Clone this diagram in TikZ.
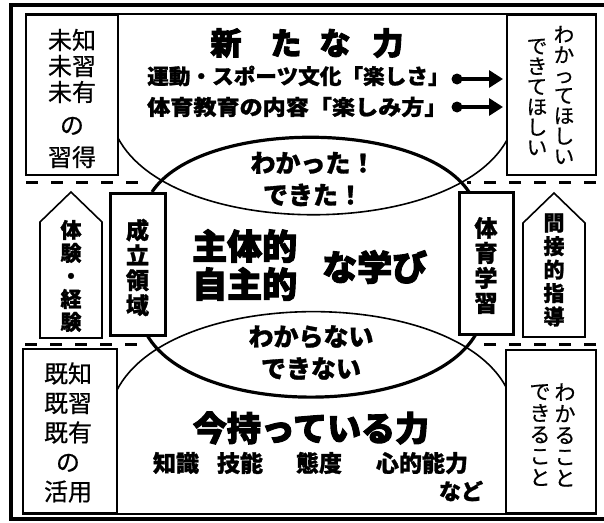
\documentclass[tikz,border=0pt]{standalone}
\usepackage{fontspec}
\setmainfont{Noto Sans CJK JP}
\newfontfamily\jpheavy[BoldFeatures={FakeBold=3}]{Noto Sans CJK JP}
\newfontfamily\jpmid[BoldFeatures={FakeBold=1.2}]{Noto Sans CJK JP}
\newfontfamily\jpsemi[FakeBold=0.6]{Noto Sans CJK JP}
\usetikzlibrary{arrows.meta}
\newcommand{\fsz}[2]{\fontsize{#1}{#2}\selectfont}
\begin{document}
\begin{tikzpicture}[x=1pt,y=-1pt,
  outerframe/.style={line width=3.5pt},
  box/.style={draw, line width=1.8pt, inner sep=0pt},
  thickbox/.style={draw, line width=3pt, inner sep=0pt},
  pent/.style={line width=1.6pt, line join=miter},
  dashln/.style={line width=3pt, dash pattern=on 12pt off 13pt},
  thincurve/.style={line width=1.6pt},
  thickcurve/.style={line width=3.2pt},
  txt/.style={inner sep=0pt, align=center},
  regtxt/.style={txt, font=\jpsemi\fsz{24}{26}},
  vreg/.style={txt, font=\jpsemi\fsz{20.5}{20.3}},
  vbold/.style={txt, font=\jpmid\bfseries\fsz{21}{23.5}},
  vbig/.style={txt, font=\jpmid\bfseries\fsz{23}{25}},
  head/.style={txt, font=\jpheavy\bfseries\fsz{31}{31}},
  sub/.style={inner sep=0pt, anchor=west, font=\jpmid\bfseries\fsz{21}{21}},
  lens/.style={txt, font=\jpmid\bfseries\fsz{25}{32}},
  huge/.style={inner sep=0pt, anchor=west, align=left, font=\jpheavy\bfseries\fsz{35}{38}},
  items/.style={txt, font=\jpmid\bfseries\fsz{23}{23}},
  bullet/.style={circle, fill, inner sep=0pt, minimum size=11pt},
  arr/.style={line width=3.2pt, -{Triangle[length=14pt,width=17pt]}}
]
\useasboundingbox (0,0) rectangle (604,522);
\fill[white] (0,0) rectangle (604,522);
\draw[outerframe] (11,5) rectangle (614,519);

% side boxes
\node[box, minimum width=92pt, minimum height=160pt] (lt) at (72,95) {};
\node[box, minimum width=89pt, minimum height=160pt] (rt) at (551.5,95) {};
\node[box, minimum width=94pt, minimum height=164pt] (lb) at (70,431) {};
\node[box, minimum width=90pt, minimum height=163pt] (rb) at (551,431.5) {};
\draw[line width=1.8pt] (lt.north west) -- (rt.north east);
\draw[line width=1.8pt] (lb.south west) -- (rb.south east);

% dashed separators
\draw[dashln] (26,182) -- (145,182);
\draw[dashln] (596,182) -- (467,182);
\draw[dashln] (25,344) -- (140,344);
\draw[dashln] (596,344) -- (476,344);

% thick boxes
\node[thickbox, minimum width=55pt, minimum height=142pt] (seiritsu) at (137.5,264) {};
\node[thickbox, minimum width=54pt, minimum height=142pt] (taiiku) at (486,263) {};

% pentagons
\draw[pent] (40,338) -- (40,222) -- (71,192) -- (102,222) -- (102,338) -- cycle;
\draw[pent] (523,337) -- (523,223) -- (554,193) -- (585,223) -- (585,337) -- cycle;

% curves
\draw[thickcurve] (152,192) .. controls (200,119) and (421,119) .. (469,192);
\draw[thincurve] (118,138) .. controls (172,240) and (452,240) .. (507,140);
\draw[thincurve] (117,390) .. controls (171,286) and (452,286) .. (506,387);
\draw[thickcurve] (147,335) .. controls (195,418) and (428,418) .. (476,334);

% side box texts
\node[regtxt] (ltt) at (72,98.5) {未知\\未習\\未有\\[7pt]の\\[6pt]習得};
\node[regtxt, font=\jpsemi\fsz{24}{29.5}] (lbt) at (68,432.5) {既知\\既習\\既有\\の\\活用};
\node[vreg] (rt1) at (564,95) {わ\\か\\っ\\て\\ほ\\し\\い};
\node[vreg] (rt2) at (537,97) {で\\き\\て\\ほ\\し\\い};
\node[vreg, font=\jpsemi\fsz{21}{21.5}] (rb1) at (565,435) {わ\\か\\る\\こ\\と};
\node[vreg, font=\jpsemi\fsz{21}{21.5}] (rb2) at (540,435) {で\\き\\る\\こ\\と};

% vertical bold texts
\node[vbold, font=\jpmid\bfseries\fsz{21}{23}] (taiken) at (71,276) {体\\験\\・\\経\\験};
\node[vbig] (seiritsut) at (137.5,267.5) {成\\立\\領\\域};
\node[vbig] (taiikut) at (486,265.5) {体\\育\\学\\習};
\node[vbold] (kansetsu) at (554,270) {間\\接\\的\\指\\導};

% heading
\node[head] (h1) at (226,43) {新};
\node[head] (h2) at (286,43) {た};
\node[head] (h3) at (335,43) {な};
\node[head] (h4) at (388,43) {力};
\node[sub] (l1) at (147,76) {\scalebox{1.03}[1]{運動・スポーツ文化「楽しさ」}};
\node[sub] (l2) at (147,107) {\scalebox{1.1}[1]{体育教育の内容「楽しみ方」}};
\node[bullet] (b1) at (457,79) {};
\node[bullet] (b2) at (457,107) {};
\coordinate (e1) at (503,79);
\coordinate (e2) at (503,107);
\draw[arr] (b1.center) -- (e1);
\draw[arr] (b2.center) -- (e2);

% lens texts
\node[lens] (wakatta) at (313,179) {わかった！\\できた！};
\node[lens] (wakaranai) at (311,352.5) {わからない\\できない};

% centre
\node[huge] (shutai) at (192,265) {主体的\\自主的};
\node[huge] (manabi) at (322,267) {な学び};

% bottom
\node[txt, font=\jpheavy\bfseries\fsz{34}{34}] (ima) at (311,428) {今持っている力};
\node[items] (k1) at (176,463) {知識};
\node[items] (k2) at (240,463) {技能};
\node[items] (k3) at (319,463) {態度};
\node[items] (k4) at (422,463) {心的能力};
\node[items, font=\jpmid\bfseries\fsz{22}{22}] (nado) at (461,491) {など};
\end{tikzpicture}
\end{document}
